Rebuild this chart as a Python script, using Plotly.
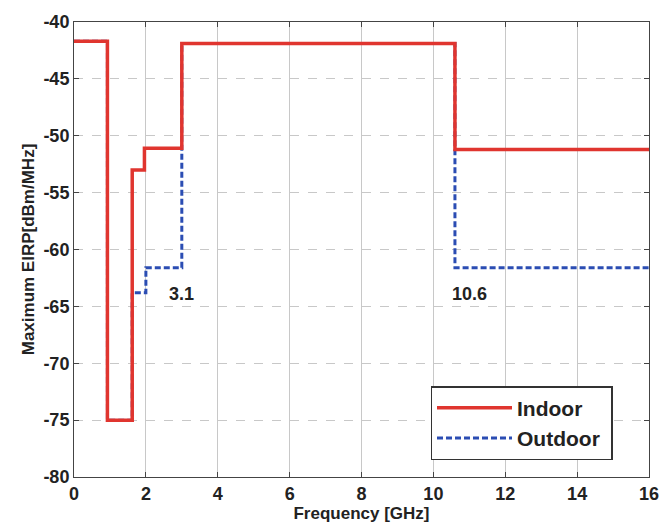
import plotly.graph_objects as go

# Step-mask data (frequency breakpoints in GHz, EIRP in dBm/MHz)
indoor_f = [0, 0.93, 0.93, 1.62, 1.62, 1.96, 1.96, 3.0, 3.0, 10.6, 10.6, 16]
indoor_p = [-41.7, -41.7, -75.0, -75.0, -53.0, -53.0, -51.1, -51.1, -41.9, -41.9, -51.2, -51.2]
outdoor_f = [0, 0.93, 0.93, 1.62, 1.62, 2.0, 2.0, 3.0, 3.0, 10.6, 10.6, 16]
outdoor_p = [-41.7, -41.7, -75.0, -75.0, -63.8, -63.8, -61.6, -61.6, -41.9, -41.9, -61.6, -61.6]
x_ticks = [0, 2, 4, 6, 8, 10, 12, 14, 16]
y_ticks = [-40, -45, -50, -55, -60, -65, -70, -75, -80]
y_tick_labels = ["-40", "-45", "-50", "-55", "-60", "-65", "-70", "-75", "-80"]
annot_text = ["3.1", "10.6"]
annot_x = [3.0, 11.0]
annot_y = [-63.9, -63.9]

FONT = "Liberation Sans, Arial, sans-serif"

fig = go.Figure()
fig.add_trace(go.Scatter(x=outdoor_f, y=outdoor_p, mode="lines", name="Outdoor ",
                         line=dict(color="#2b4db3", width=3, dash="6px,3px")))
fig.add_trace(go.Scatter(x=indoor_f, y=indoor_p, mode="lines", name="Indoor",
                         line=dict(color="#e0352f", width=3.5)))

for t, xx, yy in zip(annot_text, annot_x, annot_y):
    fig.add_annotation(x=xx, y=yy, text=t, showarrow=False,
                       xanchor="center", yanchor="middle",
                       font=dict(family=FONT, size=18, color="#222", weight="bold"))

fig.update_layout(
    width=671, height=530,
    margin=dict(l=74, r=14, t=19, b=50),
    paper_bgcolor="white", plot_bgcolor="white",
    font=dict(family=FONT, size=17, color="#222"),
    legend=dict(x=0.62, y=0.2, xanchor="left", yanchor="top",
                bgcolor="white", bordercolor="#333", borderwidth=1.5,
                font=dict(family=FONT, size=21, color="#222", weight="bold"),
                traceorder="reversed", itemwidth=75, tracegroupgap=0),
    showlegend=True,
)
fig.update_xaxes(range=[0, 16], tickvals=x_ticks,
                 tickfont=dict(family=FONT, size=18, color="#222", weight="bold"),
                 showline=True, linecolor="#444", linewidth=1, mirror="ticks",
                 ticks="inside", ticklen=5, tickcolor="#444",
                 showgrid=True, gridcolor="#c8c8c8", gridwidth=1, griddash="solid",
                 zeroline=False,
                 title=dict(text="Frequency [GHz]", standoff=3,
                            font=dict(family=FONT, size=17, color="#222", weight="bold")))
fig.update_yaxes(range=[-80, -40], tickvals=y_ticks, ticktext=y_tick_labels,
                 tickfont=dict(family=FONT, size=18, color="#222", weight="bold"),
                 showline=True, linecolor="#444", linewidth=1, mirror="ticks",
                 ticks="inside", ticklen=5, tickcolor="#444",
                 showgrid=True, gridcolor="#c8c8c8", gridwidth=1, griddash="dash",
                 zeroline=False,
                 title=dict(text="Maximum EIRP[dBm/MHz]", standoff=4,
                            font=dict(family=FONT, size=17, color="#222", weight="bold")))

fig.write_html("out.html")
